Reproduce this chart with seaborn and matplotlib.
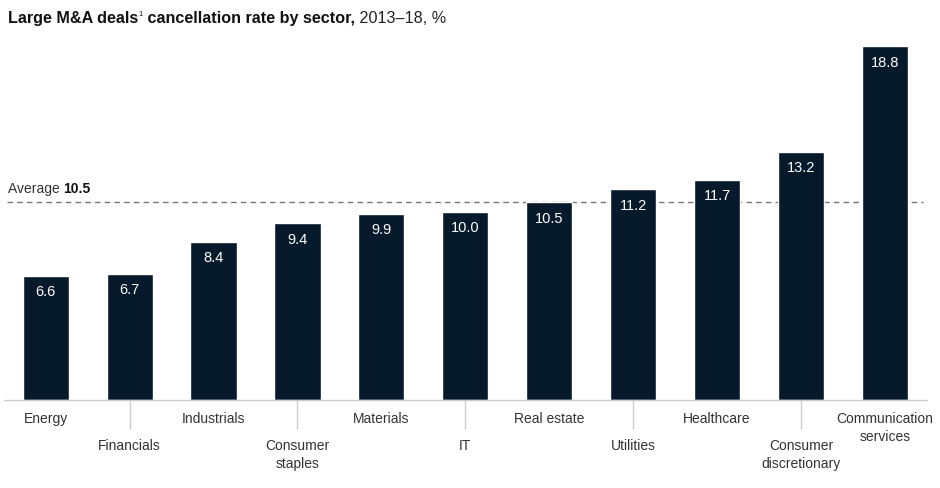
"""
Large M&A deals cancellation rate by sector, 2013-18
"""
import numpy as np
import pandas as pd
import matplotlib
matplotlib.use("Agg")
import matplotlib.pyplot as plt
import seaborn as sns

# data
sectors = ["Energy", "Financials", "Industrials", "Consumer\nstaples", "Materials", "IT",
           "Real estate", "Utilities", "Healthcare", "Consumer\ndiscretionary",
           "Communication\nservices"]
rates = [6.6, 6.7, 8.4, 9.4, 9.9, 10.0, 10.5, 11.2, 11.7, 13.2, 18.8]
average = 10.5

BAR = "#061a2b"
TXT = "#333333"

sns.set_theme(style="white")
plt.rcParams["font.family"] = ["Liberation Sans", "DejaVu Sans"]

df = pd.DataFrame({"sector": sectors, "rate": rates})

fig = plt.figure(figsize=(9.4, 4.89), dpi=100)
ax = fig.add_axes([0.004, 0.18, 0.982, 0.75])

# average line sits behind the bars
ax.axhline(average, xmin=0.004, xmax=0.996, color="#777777", linestyle=(0, (4, 3)),
           linewidth=1, zorder=0)

sns.barplot(data=df, x="sector", y="rate", color=BAR, saturation=1, width=0.55, ax=ax,
            zorder=2)

ax.set_xlim(-0.5, len(sectors) - 0.5)
ax.set_ylim(0, 19.5)
ax.set_xlabel("")
ax.set_ylabel("")
ax.set_yticks([])

for s in ["top", "right", "left"]:
    ax.spines[s].set_visible(False)
ax.spines["bottom"].set_color("#cccccc")
ax.spines["bottom"].set_linewidth(1)

# ticks between label rows (at every second bar)
ax.set_xticks(range(1, len(sectors), 2))
ax.set_xticklabels([])
ax.tick_params(axis="x", length=21, width=1, color="#cccccc", direction="out", bottom=True)

# category labels on two staggered rows
for i, name in enumerate(sectors):
    y = -0.03 if i % 2 == 0 else -0.105
    ax.text(i, y, name, transform=ax.get_xaxis_transform(), ha="center", va="top",
            fontsize=10, color=TXT, linespacing=1.35)

# values inside bars
for i, v in enumerate(rates):
    ax.text(i, v - 0.82, f"{v:.1f}", ha="center", va="center", color="white",
            fontsize=10.5, zorder=3)

t = ax.text(-0.45, average + 0.4, "Average ", ha="left", va="bottom", fontsize=10, color=TXT)
ax.annotate(f"{average}", xy=(1, 0), xycoords=t, va="bottom", ha="left",
            fontsize=10, fontweight="bold", color="#111111")

# title, built from pieces
t1 = fig.text(0.009, 0.963, "Large M&A deals", ha="left", va="center",
              fontsize=11.6, fontweight="bold", color="#111111")
t2 = ax.annotate("1", xy=(1, 0.5), xycoords=t1, ha="left", va="bottom",
                 fontsize=5.5, color="#111111", annotation_clip=False)
t3 = ax.annotate(" cancellation rate by sector,", xy=(1, 0), xycoords=(t2, t1),
                 ha="left", va="bottom", fontsize=11.6, fontweight="bold", color="#111111",
                 annotation_clip=False)
ax.annotate(" 2013\u201318, %", xy=(1, 0), xycoords=t3, ha="left", va="bottom",
            fontsize=11.6, color="#222222", annotation_clip=False)

plt.savefig("out.png", dpi=100)
